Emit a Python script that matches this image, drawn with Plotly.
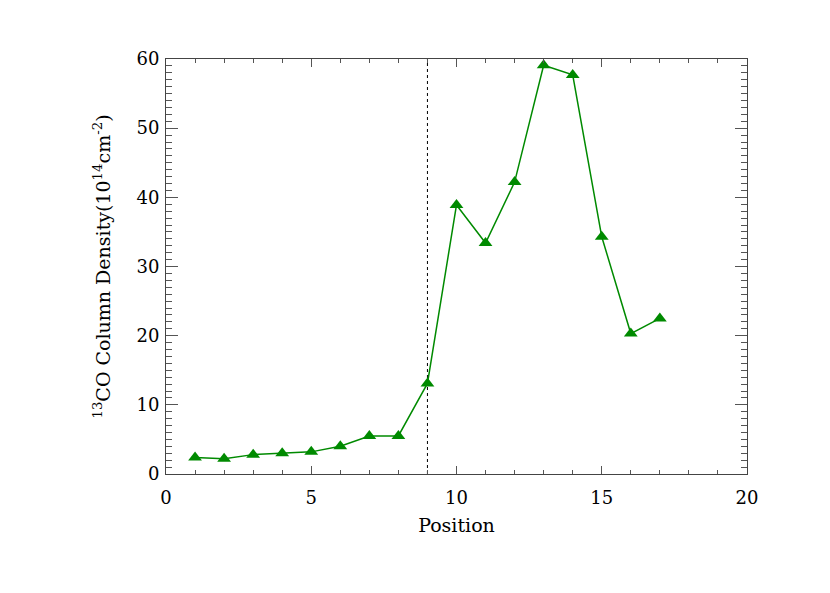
import plotly.graph_objects as go

# position along the cut and 13CO column density (10^14 cm^-2)
positions = [1, 2, 3, 4, 5, 6, 7, 8, 9, 10, 11, 12, 13, 14, 15, 16, 17]
density = [2.4, 2.2, 2.8, 3.0, 3.2, 4.0, 5.5, 5.5, 13.1,
           38.9, 33.4, 42.2, 59.1, 57.7, 34.3, 20.3, 22.5]
marker_position = 9

x_ticks = [0, 5, 10, 15, 20]
y_ticks = [0, 10, 20, 30, 40, 50, 60]

green = '#008a00'
tick_font = dict(family='DejaVu Serif, serif', size=18, color='black')
title_font = dict(family='DejaVu Serif, serif', size=19, color='black')

fig = go.Figure()

# vertical reference line
fig.add_trace(go.Scatter(x=[marker_position, marker_position], y=[0, 60], mode='lines',
                         line=dict(color='black', width=1, dash='dot'),
                         showlegend=False, hoverinfo='skip'))

fig.add_trace(go.Scatter(x=positions, y=density, mode='lines+markers',
                         line=dict(color=green, width=1.5),
                         marker=dict(symbol='triangle-up', size=12, color=green),
                         showlegend=False))

axis_common = dict(showgrid=False, zeroline=False, showline=True, linecolor='#444',
                   linewidth=1, mirror='allticks', ticks='inside', tickcolor='#555',
                   tickfont=tick_font)

fig.update_layout(
    width=830, height=593,
    margin=dict(l=158, r=91, t=51, b=127),
    plot_bgcolor='white', paper_bgcolor='white',
    font=tick_font,
    xaxis=dict(range=[0, 20], tickvals=x_ticks, ticklen=8, ticklabelstandoff=7,
               minor=dict(dtick=1, ticklen=4, ticks='inside', tickcolor='#555'),
               title=dict(text='Position', font=title_font, standoff=12),
               **axis_common),
    yaxis=dict(range=[0, 60], tickvals=y_ticks, ticklen=12, ticklabelstandoff=2,
               minor=dict(dtick=1, ticklen=6, ticks='inside', tickcolor='#555'),
               title=dict(text='<sup>13</sup>CO Column Density(10<sup>14</sup>cm<sup>-2</sup>)',
                          font=title_font, standoff=20),
               **axis_common),
)

fig.write_html('out.html')
